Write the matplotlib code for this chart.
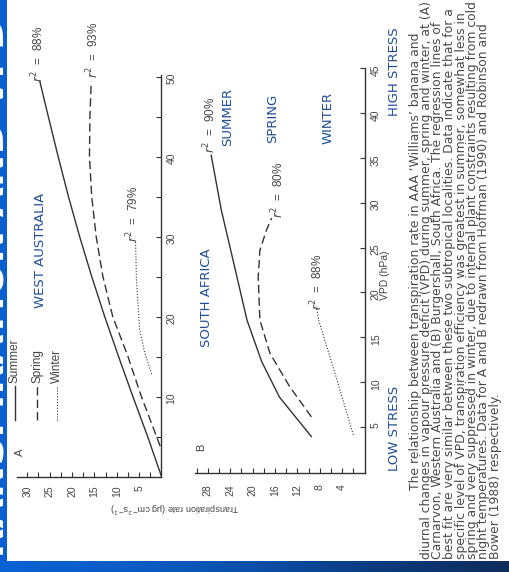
import matplotlib
matplotlib.use("Agg")

import matplotlib.pyplot as plt
import numpy as np
from matplotlib.patches import Rectangle
from matplotlib.lines import Line2D
from matplotlib.colors import LinearSegmentedColormap

W, H = 509, 572

# --- datos (VPD en hPa, transpiracion en ug cm-2 s-1) ---
# Panel A: West Australia
a_summer_vpd = [0, 5, 10, 15, 20, 25, 30, 35, 40, 45, 49.4]
a_summer_tr = [0, 3.1, 6.4, 9.6, 12.7, 15.6, 18.3, 20.8, 23.1, 25.3, 27.2]
a_spring_vpd = [3.8, 10, 15, 20, 25, 30, 35, 40, 45, 49.4]
a_spring_tr = [0.3, 4.5, 7.5, 10.9, 13.1, 14.6, 15.6, 16.1, 16.0, 15.7]
a_winter_vpd = [12.8, 15.6, 18.4, 24.6, 29.4]
a_winter_tr = [2.2, 3.8, 4.9, 5.6, 5.8]
a_r2 = ["88%", "93%", "79%"]

# Panel B: South Africa
b_summer_vpd = [3.9, 8.3, 12.3, 16.9, 23.6, 29.2, 35.3]
b_summer_tr = [9.5, 15.2, 18.4, 21.0, 23.5, 25.6, 27.4]
b_spring_vpd = [6.1, 9.5, 13.2, 16.9, 21.7, 24.7, 27.0, 28.3]
b_spring_tr = [9.5, 13.4, 16.9, 18.7, 19.0, 18.7, 17.5, 16.6]
b_winter_vpd = [4.1, 10.4, 16.9, 18.4]
b_winter_tr = [2.0, 5.0, 8.2, 8.6]
b_r2 = ["90%", "80%", "88%"]

seasons = ["Summer", "Spring", "Winter"]

caption = [
    "The relationship between transpiration rate in AAA \u2018Williams\u2019 banana and",
    "diurnal changes in vapour pressure deficit (VPD) during summer, spring and winter, at (A)",
    "Carnarvon, Western Australia and (B) Burgershall, South Africa. The regression lines of",
    "best fit are very similar between these two subtropical localities. Data indicate that for a",
    "specific level of VPD, transpiration efficiency was greatest in summer, somewhat less in",
    "spring and very suppressed in winter, due to internal plant constraints resulting from cold",
    "night temperatures. Data for A and B redrawn from Hoffman (1990) and Robinson and",
    "Bower (1988) respectively.",
]

INK = "#333333"
TXT = "#454545"
BLUE = "#1f4f98"
styles = [dict(ls="-", lw=1.0), dict(ls=(0, (6, 3)), lw=1.0), dict(ls=(0, (1, 1.6)), lw=0.8)]


def fx(x):
    return x / W


def fy(y):
    return 1 - y / H


def rect(left, top, right, bottom):
    return [fx(left), fy(bottom), (right - left) / W, (bottom - top) / H]


fig = plt.figure(figsize=(W / 100, H / 100), dpi=100, facecolor="#0b60cf")

# fondo de la diapositiva (titulo casi tapado por la figura escaneada)
fig.text(fx(-6), fy(300), "TRANSPIRATION AND VPD", rotation=90, color="white",
         fontsize=28, fontweight="bold", ha="center", va="center", zorder=-3)
fig.patches.append(Rectangle((fx(7), fy(561)), 1, 1, transform=fig.transFigure,
                             facecolor="white", edgecolor="none", zorder=-2))
band = fig.add_axes([0, 0, 1, 11 / H], zorder=-1)
cmap = LinearSegmentedColormap.from_list(
    "band", ["#0a62d4", "#0a5cc6", "#0b4fa8", "#0c3a7c", "#0f2c5c"])
band.imshow(np.linspace(0, 1, 256)[None, :], aspect="auto", cmap=cmap, extent=(0, 1, 0, 1))
band.axis("off")


def style_axes(ax, xlim, ylim, xmaj, xmin, ymaj, ymin, xpad, ypad):
    ax.set_xlim(*xlim)
    ax.set_ylim(*ylim)
    ax.patch.set_alpha(0)
    for s in ["top", "left"]:
        ax.spines[s].set_visible(False)
    for s in ["bottom", "right"]:
        ax.spines[s].set_color(INK)
        ax.spines[s].set_linewidth(1.0)
    ax.yaxis.tick_right()
    ax.set_xticks(xmaj)
    ax.set_xticks(xmin, minor=True)
    ax.set_yticks(ymaj)
    ax.set_yticks(ymin, minor=True)
    ax.tick_params(axis="x", which="both", direction="in", length=3.6, width=0.8,
                   color=INK, labelrotation=90, pad=xpad, labelsize=7.5, labelcolor=TXT)
    ax.tick_params(axis="y", which="both", direction="in", length=3.6, width=0.8,
                   color=INK, labelrotation=90, pad=ypad, labelsize=7.5, labelcolor=TXT,
                   right=True, left=False)
    for lab in ax.get_xticklabels() + ax.get_yticklabels():
        lab.set_family("Liberation Sans")


# Panel A
axA = fig.add_axes(rect(17, 75, 161.5, 476.5))
axA.plot(a_summer_tr, a_summer_vpd, color=INK, **styles[0])
axA.plot(a_spring_tr, a_spring_vpd, color=INK, **styles[1])
axA.plot(a_winter_tr, a_winter_vpd, color=INK, **styles[2])
style_axes(axA, (32.3, 0), (0, 50.2),
           [5, 10, 15, 20, 25, 30], [2.5, 7.5, 12.5, 17.5, 22.5, 27.5],
           [10, 20, 30, 40, 50], [5, 15, 25, 35, 45], 6.5, 3.5)

# Panel B
axB = fig.add_axes(rect(195, 68.5, 364.5, 473))
axB.plot(b_summer_tr, b_summer_vpd, color=INK, **styles[0])
axB.plot(b_spring_tr, b_spring_vpd, color=INK, **styles[1])
axB.plot(b_winter_tr, b_winter_vpd, color=INK, **styles[2])
style_axes(axB, (30.3, 0), (-0.17, 45),
           [4, 8, 12, 16, 20, 24, 28], [2, 6, 10, 14, 18, 22, 26, 30],
           [5, 10, 15, 20, 25, 30, 35, 40, 45], [], 8, 4.5)

# etiquetas r^2
r2_pos = [(38, 82), (93, 78), (133, 242), (210, 153), (278, 218), (317, 310)]
for (x, y), val in zip(r2_pos, a_r2 + b_r2):
    fig.text(fx(x), fy(y), "$r^2$  =  " + val, rotation=90, ha="center", va="bottom",
             fontsize=8.5, color=TXT, family="Liberation Sans")

# leyenda del panel A
for i, (name, st) in enumerate(zip(seasons, styles)):
    x = [15, 37, 57][i]
    fig.lines.append(Line2D([fx(x), fx(x)], [fy(420), fy(386)], transform=fig.transFigure,
                            color=INK, **st))
    fig.text(fx(x), fy(383), name, rotation=90, ha="center", va="bottom",
             fontsize=8.5, color=TXT, family="Liberation Sans")

fig.text(fx(20), fy(452), "A", rotation=90, ha="center", va="center", fontsize=8,
         color=TXT, family="Liberation Sans")
fig.text(fx(201), fy(447), "B", rotation=90, ha="center", va="center", fontsize=8,
         color=TXT, family="Liberation Sans")

# titulos de ejes
fig.text(fx(175), fy(507), "Transpiration rate (\u03bcg cm$^{-2}$s$^{-1}$)", rotation=180,
         ha="center", va="center", fontsize=6.5, color=TXT, family="Liberation Sans")
fig.text(fx(385), fy(275), "VPD (hPa)", rotation=90, ha="center", va="center",
         fontsize=7.5, color=TXT, family="Liberation Sans")

# anotaciones azules
blue_labels = [("WEST AUSTRALIA", 40, 250), ("SOUTH AFRICA", 207, 298),
               ("SUMMER", 228, 117), ("SPRING", 273, 118), ("WINTER", 328, 118),
               ("HIGH STRESS", 395, 72), ("LOW STRESS", 395, 428)]
for txt, x, y in blue_labels:
    fig.text(fx(x), fy(y), txt, rotation=90, ha="center", va="center",
             fontsize=9.5, color=BLUE)

# pie de figura
cap_x = [415, 426.5, 438, 449.5, 461, 472.5, 484, 495.5]
cap_y = [490, 559, 559, 559, 559, 559, 559, 559]
for line, x, y in zip(caption, cap_x, cap_y):
    fig.text(fx(x), fy(y), line, rotation=90, ha="center", va="bottom",
             fontsize=8.9, color="#4a4a4a", family="DejaVu Sans")

fig.savefig("out.png", dpi=100, facecolor=fig.get_facecolor())
plt.close(fig)
